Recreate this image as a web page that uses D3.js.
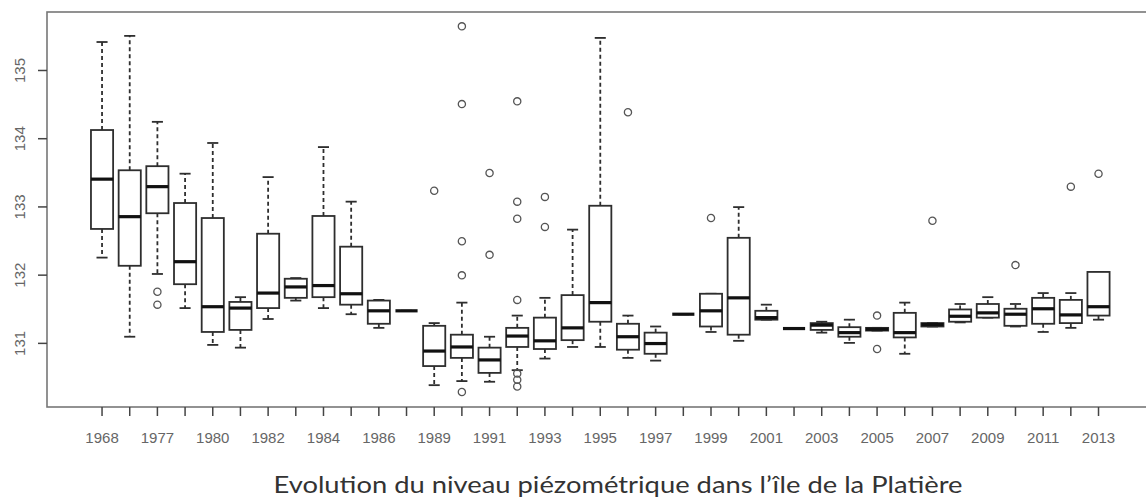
<!DOCTYPE html>
<html>
<head>
<meta charset="utf-8">
<script src="https://cdn.jsdelivr.net/npm/d3@7"></script>
<style>
 body { margin: 0; background: #fff; }
 svg { display: block; }
</style>
</head>
<body>
<svg id="chart"></svg>
<script>
// размеры
const width = 1146;
const height = 497;

// данные: годы и статистики ящиков (м)
const years = ["1968","1976","1977","1978","1980","1981","1982","1983","1984","1985",
 "1986","1987","1989","1990","1991","1992","1993","1994","1995","1996",
 "1997","1998","1999","2000","2001","2002","2003","2004","2005","2006",
 "2007","2008","2009","2010","2011","2012","2013"];
const whiskerLow = [132.25,131.09,132.01,131.51,130.97,130.93,131.35,131.62,131.51,131.42,
 131.22,131.47,130.38,130.44,130.43,130.60,130.77,130.94,130.94,130.78,
 130.74,131.42,131.16,131.03,131.34,131.21,131.15,131.00,131.18,130.84,
 131.24,131.30,131.37,131.24,131.16,131.22,131.34];
const q1 = [132.67,132.13,132.90,131.86,131.16,131.19,131.51,131.66,131.67,131.56,
 131.28,131.47,130.66,130.78,130.56,130.94,130.91,131.04,131.31,130.90,
 130.84,131.42,131.24,131.12,131.34,131.21,131.19,131.09,131.18,131.08,
 131.24,131.31,131.37,131.25,131.28,131.29,131.40];
const median = [133.40,132.85,133.29,132.19,131.53,131.51,131.73,131.82,131.84,131.72,
 131.47,131.47,130.88,130.94,130.75,131.10,131.03,131.22,131.59,131.09,
 130.99,131.42,131.47,131.66,131.37,131.21,131.26,131.15,131.20,131.15,
 131.27,131.39,131.44,131.42,131.50,131.41,131.53];
const q3 = [134.12,133.53,133.59,133.05,132.83,131.60,132.60,131.94,132.86,132.41,
 131.62,131.47,131.25,131.12,130.93,131.22,131.37,131.70,133.01,131.28,
 131.15,131.42,131.72,132.54,131.47,131.21,131.29,131.23,131.22,131.44,
 131.29,131.49,131.57,131.50,131.66,131.63,132.04];
const whiskerHigh = [135.41,135.50,134.24,133.48,133.93,131.67,133.43,131.95,133.87,133.07,
 131.63,131.47,131.29,131.59,131.09,131.40,131.66,132.66,135.47,131.40,
 131.24,131.42,131.72,132.99,131.56,131.21,131.31,131.34,131.22,131.59,
 131.29,131.57,131.67,131.57,131.73,131.73,132.04];
const outliers = [[],[],[131.75,131.56],[],[],[],[],[],[],[],
 [],[],[133.23],[135.64,134.50,132.49,131.99,130.28],[133.49,132.29],
 [134.54,133.07,132.82,131.63,130.55,130.46,130.36],[133.14,132.70],[],[],[134.38],
 [],[],[132.83],[],[],[],[],[],[131.40,130.91],[],
 [132.79],[],[],[132.14],[],[133.29],[133.48]];
const yTicks = [131, 132, 133, 134, 135];
const title = "Evolution du niveau piézométrique dans l’île de la Platière";

// таблица для отрисовки
const boxes = years.map((yr, i) => ({
 year: yr, lo: whiskerLow[i], q1: q1[i], med: median[i], q3: q3[i], hi: whiskerHigh[i], out: outliers[i]
}));

const svg = d3.select("#chart")
 .attr("width", width)
 .attr("height", height);

const plotLeft = 47, plotTop = 12, plotBottom = 407;

const x = d3.scaleBand()
 .domain(years)
 .range([88.2, 88.2 + 27.68 * years.length])
 .padding(0);
const y = d3.scaleLinear()
 .domain([130.06, 135.85])
 .range([plotBottom, plotTop]);

const boxW = x.bandwidth() * 0.8;
const capW = boxW * 0.5;
const ink = "#2e2e2e";

// рамка графика
svg.append("rect")
 .attr("x", plotLeft).attr("y", plotTop)
 .attr("width", 1200).attr("height", plotBottom - plotTop)
 .attr("fill", "none")
 .attr("stroke", "#777")
 .attr("stroke-width", 1.6);

// ось Y
const yAxis = svg.append("g")
 .attr("transform", `translate(${plotLeft},0)`)
 .call(d3.axisLeft(y).tickValues(yTicks).tickSize(9).tickPadding(0).tickFormat(d3.format("d")));
yAxis.select(".domain").remove();
yAxis.selectAll("line").attr("stroke", "#444").attr("stroke-width", 1.5);
yAxis.selectAll("text")
 .attr("x", -22).attr("y", 0).attr("dy", null)
 .attr("transform", "rotate(-90,-22,0)")
 .attr("text-anchor", "middle")
 .attr("fill", "#666")
 .style("font-family", "'Liberation Sans', Arial, sans-serif")
 .style("font-size", "15px");

// ось X
const xAxis = svg.append("g")
 .attr("transform", `translate(0,${plotBottom})`)
 .call(d3.axisBottom(x).tickSize(9).tickPadding(0)
   .tickFormat((d, i) => i % 2 === 0 ? d : ""));
xAxis.select(".domain").remove();
xAxis.selectAll("line").attr("stroke", "#444").attr("stroke-width", 1.5);
xAxis.selectAll("text")
 .attr("y", 36).attr("dy", null)
 .attr("fill", "#666")
 .style("font-family", "'Liberation Sans', Arial, sans-serif")
 .style("font-size", "15px");

// ящики
const g = svg.append("g")
 .selectAll("g")
 .data(boxes)
 .join("g")
 .attr("transform", d => `translate(${x(d.year) + x.bandwidth() / 2},0)`);

// усы (пунктир)
g.append("line")
 .attr("x1", 0).attr("x2", 0)
 .attr("y1", d => y(d.q3)).attr("y2", d => y(d.hi))
 .attr("stroke", ink).attr("stroke-width", 1.8).attr("stroke-dasharray", "4,3");
g.append("line")
 .attr("x1", 0).attr("x2", 0)
 .attr("y1", d => y(d.q1)).attr("y2", d => y(d.lo))
 .attr("stroke", ink).attr("stroke-width", 1.8).attr("stroke-dasharray", "4,3");
// засечки
g.selectAll(".cap")
 .data(d => [d.lo, d.hi])
 .join("line")
 .attr("class", "cap")
 .attr("x1", -capW / 2).attr("x2", capW / 2)
 .attr("y1", v => y(v)).attr("y2", v => y(v))
 .attr("stroke", ink).attr("stroke-width", 1.8);
// коробка
g.append("rect")
 .attr("x", -boxW / 2)
 .attr("width", boxW)
 .attr("y", d => y(d.q3))
 .attr("height", d => y(d.q1) - y(d.q3))
 .attr("fill", "#fff")
 .attr("stroke", ink).attr("stroke-width", 1.8);
// медиана
g.append("line")
 .attr("x1", -boxW / 2).attr("x2", boxW / 2)
 .attr("y1", d => y(d.med)).attr("y2", d => y(d.med))
 .attr("stroke", "#111").attr("stroke-width", 3.2);
// выбросы
g.selectAll(".out")
 .data(d => d.out)
 .join("circle")
 .attr("class", "out")
 .attr("cx", 0)
 .attr("cy", v => y(v))
 .attr("r", 3.6)
 .attr("fill", "none")
 .attr("stroke", "#555").attr("stroke-width", 1.3);

// подпись
svg.append("text")
 .attr("x", 618).attr("y", 493)
 .attr("text-anchor", "middle")
 .attr("textLength", 689)
 .attr("lengthAdjust", "spacingAndGlyphs")
 .attr("fill", "#333")
 .style("font-family", "Lato, 'Open Sans', sans-serif")
 .style("font-size", "23px")
 .text(title);
</script>
</body>
</html>
